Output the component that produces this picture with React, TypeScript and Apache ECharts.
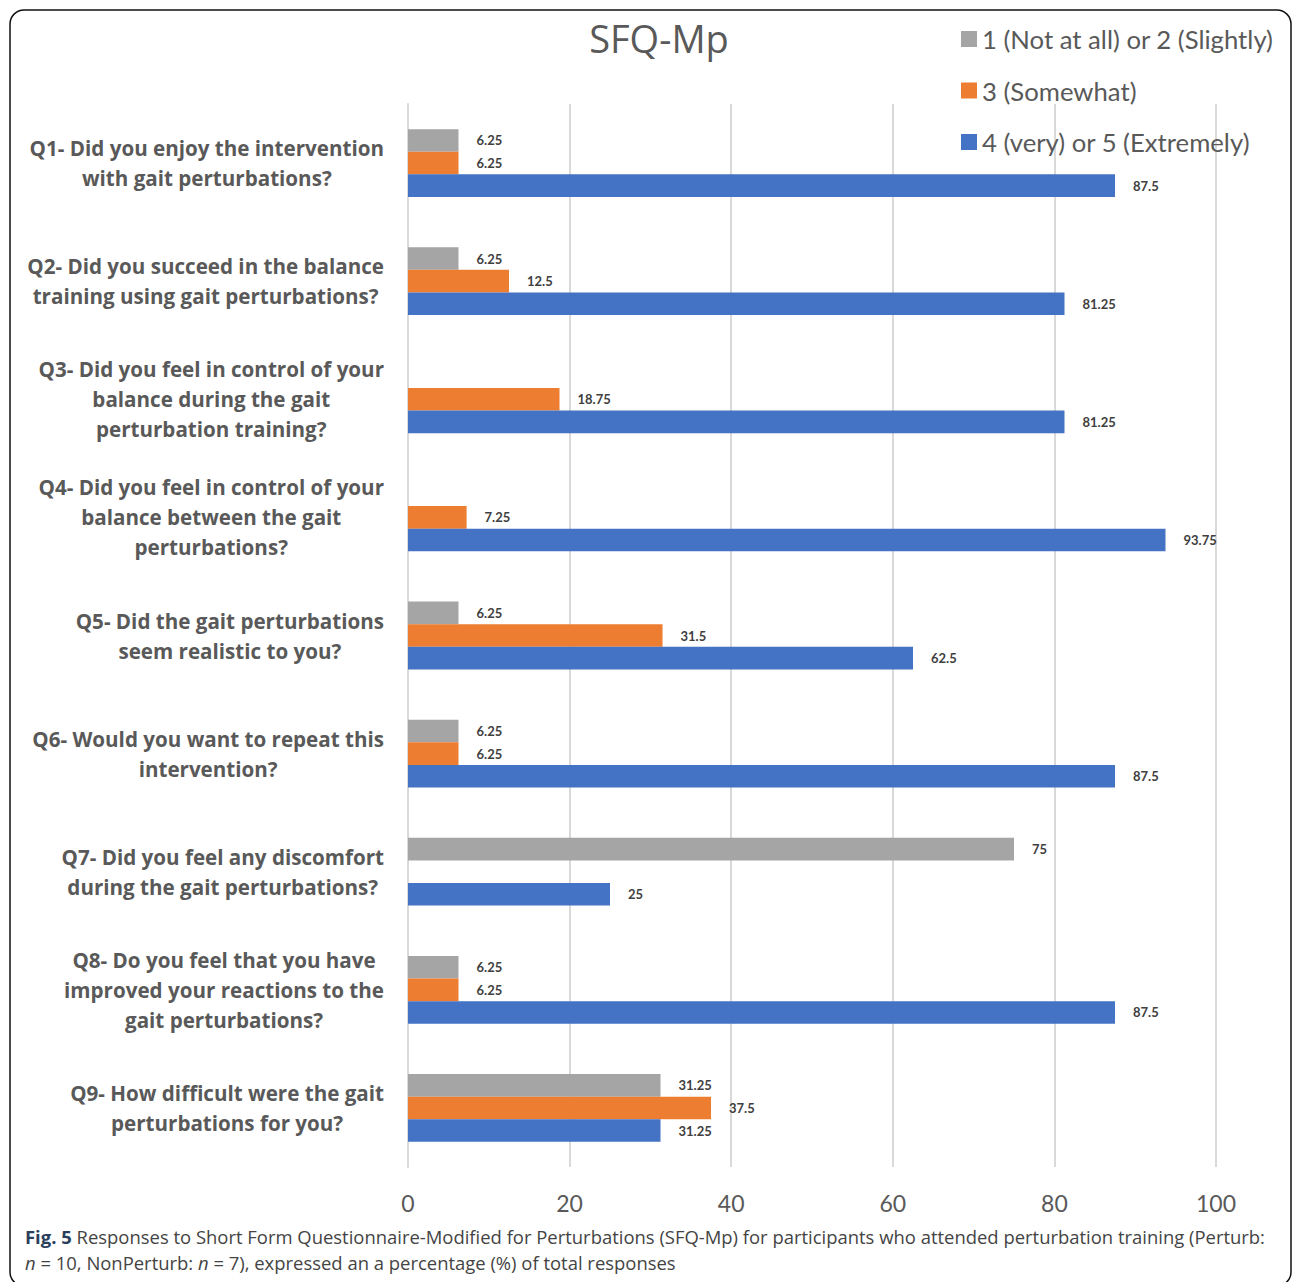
import React, { useEffect, useRef } from "react";
import * as echarts from "echarts";

const categories = [
  "Q1- Did you enjoy the intervention\nwith gait perturbations?",
  "Q2- Did you succeed in the balance\ntraining using gait perturbations?",
  "Q3- Did you feel in control of your\nbalance during the gait\nperturbation training?",
  "Q4- Did you feel in control of your\nbalance between the gait\nperturbations?",
  "Q5- Did the gait perturbations\nseem realistic to you?",
  "Q6- Would you want to repeat this\nintervention?",
  "Q7- Did you feel any discomfort\nduring the gait perturbations?",
  "Q8- Do you feel that you have\nimproved your reactions to the\ngait perturbations?",
  "Q9- How difficult were the gait\nperturbations for you?",
];

const seriesNames = [
  "1 (Not at all) or 2 (Slightly)",
  "3 (Somewhat)",
  "4 (very) or 5 (Extremely)",
];

const lowValues = [6.25, 6.25, null, null, 6.25, 6.25, 75, 6.25, 31.25];
const midValues = [6.25, 12.5, 18.75, 7.25, 31.5, 6.25, null, 6.25, 37.5];
const highValues = [87.5, 81.25, 81.25, 93.75, 62.5, 87.5, 25, 87.5, 31.25];

const xTicks = { min: 0, max: 100, interval: 20 };

const colors = ["#a5a5a5", "#ed7d31", "#4472c4"];

const titleText = "SFQ-Mp";
const captionLine1 =
  " Responses to Short Form Questionnaire-Modified for Perturbations (SFQ-Mp) for participants who attended perturbation training (Perturb:";
const captionLine2 = " = 7), expressed an a percentage (%) of total responses";

export default function App() {
  const ref = useRef<HTMLDivElement>(null);

  useEffect(() => {
    document.body.style.margin = "0";
    const chart = echarts.init(ref.current!, null, { renderer: "svg" });
    const font = "Lato";
    const catFont = "Open Sans";
    const mkSeries = (name: string, data: (number | null)[], color: string) => ({
      name,
      type: "bar",
      data,
      barWidth: 22.6,
      barGap: "0%",
      itemStyle: { color },
      label: {
        show: true,
        position: "right",
        distance: 18,
        fontFamily: font,
        fontWeight: "bold",
        fontSize: 13,
        color: "#404040",
      },
    });

    chart.setOption({
      animation: false,
      textStyle: { fontFamily: font },
      title: {
        text: titleText,
        left: 654,
        top: 14,
        textAlign: "center",
        textStyle: { fontFamily: "Open Sans", fontSize: 38, fontWeight: "normal", color: "#595959" },
      },
      legend: {
        orient: "vertical",
        left: 956,
        top: 21,
        itemWidth: 16,
        itemHeight: 16,
        itemGap: 25.5,
        itemTextGap: 6,
        icon: "rect",
        textStyle: { fontFamily: font, fontSize: 25.7, color: "#595959", lineHeight: 26 },
        data: seriesNames,
      },
      grid: { left: 408, right: 76, top: 104, bottom: 115, containLabel: false },
      xAxis: {
        type: "value",
        min: xTicks.min,
        max: xTicks.max,
        interval: xTicks.interval,
        axisLine: { show: false },
        axisTick: { show: false },
        axisLabel: { fontFamily: font, fontSize: 23, color: "#595959", margin: 24 },
        splitLine: { lineStyle: { color: "#d9d9d9", width: 2 } },
      },
      yAxis: {
        type: "category",
        inverse: true,
        data: categories,
        axisLine: { lineStyle: { color: "#d9d9d9", width: 2 } },
        axisTick: { show: false },
        axisLabel: {
          margin: 24,
          fontFamily: catFont,
          fontWeight: "bold",
          fontSize: 20.6,
          color: "#595959",
          lineHeight: 30,
          formatter: (v: string) =>
            v
              .split("\n")
              .map((l) => `{c|${l}}`)
              .join("\n"),
          rich: {
            c: {
              align: "center",
              fontFamily: catFont,
              fontWeight: "bold",
              fontSize: 20.6,
              color: "#595959",
              lineHeight: 30,
            },
          },
        },
      },
      series: [
        mkSeries(seriesNames[0], lowValues, colors[0]),
        mkSeries(seriesNames[1], midValues, colors[1]),
        mkSeries(seriesNames[2], highValues, colors[2]),
      ],
      graphic: [
        {
          type: "rect",
          shape: { x: 10, y: 10, width: 1281, height: 1276, r: 14 },
          style: { fill: "none", stroke: "#111", lineWidth: 1.5 },
          silent: true,
        },
        {
          type: "text",
          left: 25,
          top: 1227,
          style: {
            text: `{b|Fig. 5}{r|${captionLine1}}\n{i|n}{r| = 10, NonPerturb: }{i|n}{r|${captionLine2}}`,
            rich: {
              b: { fontFamily: "Open Sans", fontWeight: "bold", fontSize: 18.45, fill: "#2b3f5c", lineHeight: 26 },
              r: { fontFamily: "Open Sans", fontSize: 18.45, fill: "#444", lineHeight: 26 },
              i: { fontFamily: "Open Sans", fontStyle: "italic", fontSize: 18.45, fill: "#444", lineHeight: 26 },
            },
          },
        },
      ],
    });
    return () => chart.dispose();
  }, []);

  return <div ref={ref} style={{ width: 1292, height: 1282 }} />;
}
